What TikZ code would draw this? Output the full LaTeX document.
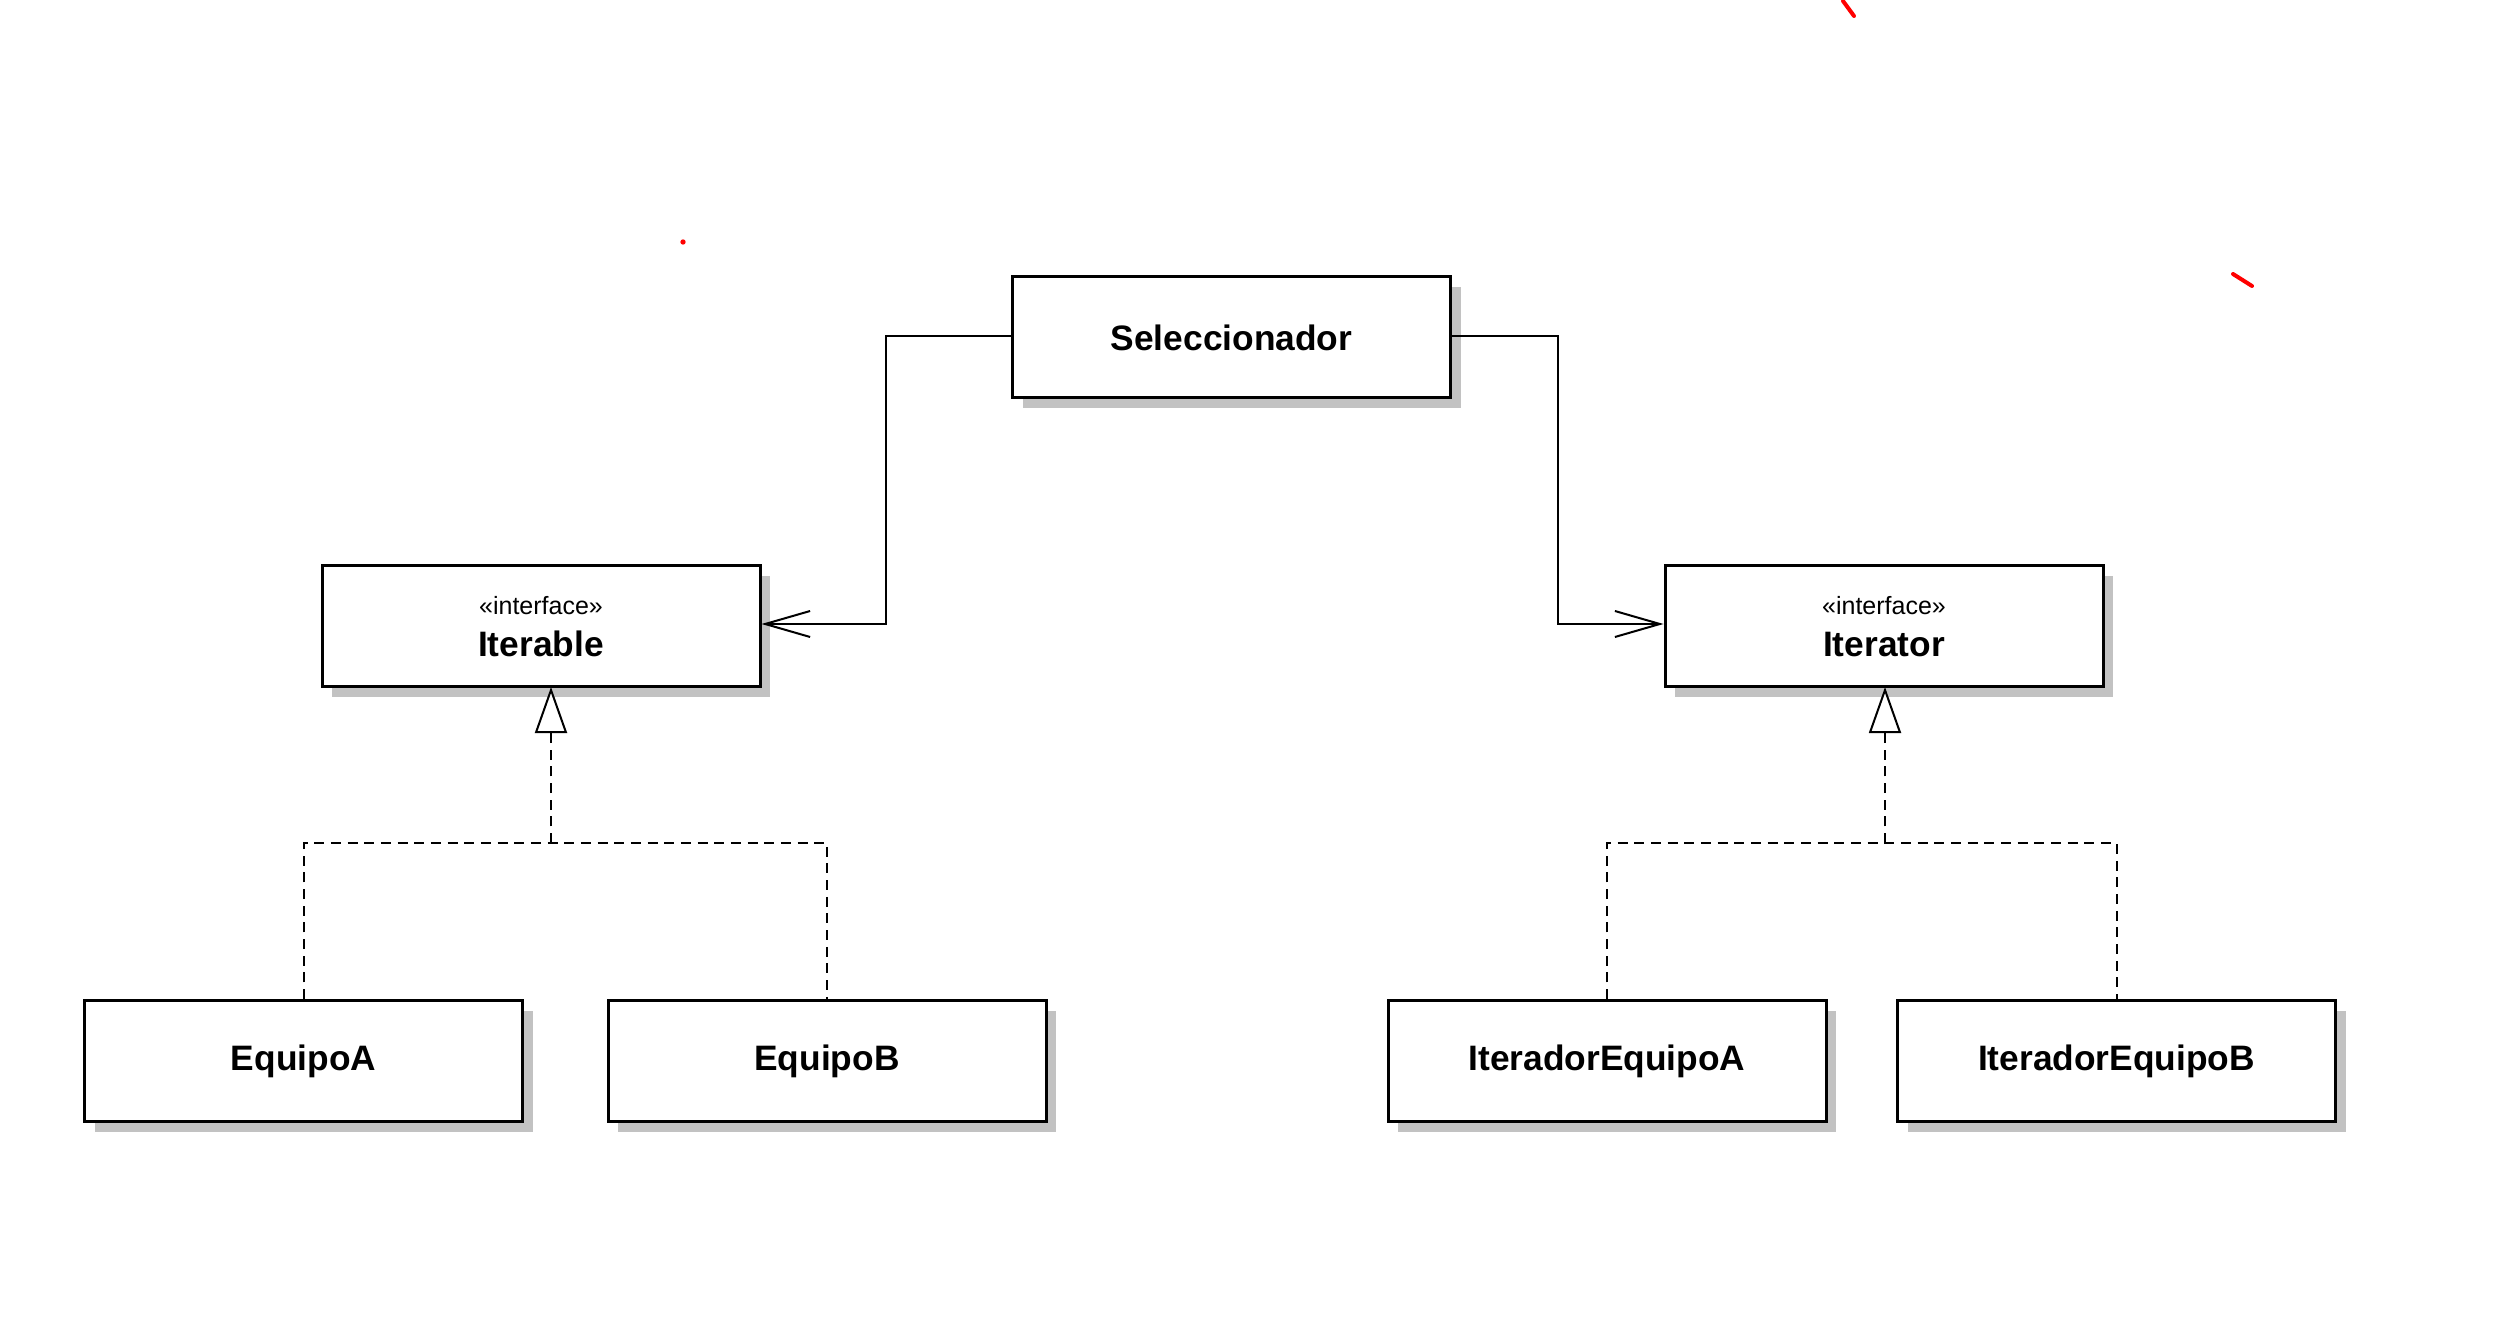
\documentclass[tikz,border=0pt]{standalone}
\usepackage{fontspec}
\setmainfont{Liberation Sans}
\usetikzlibrary{arrows.meta,shadows}
\newcommand\stereotxt[1]{{\mdseries\fontsize{7.5}{9}\selectfont #1}}
\begin{document}
\begin{tikzpicture}[x=0.3pt,y=-0.3pt,
  cls/.style={draw=black, line width=0.9pt, fill=white, minimum width=131.4pt, minimum height=36.3pt,
    inner sep=0pt, align=center, font=\bfseries\fontsize{10.6}{12.7}\selectfont,
    drop shadow={shadow xshift=3pt, shadow yshift=-3pt, fill=black!24, opacity=1}},
  assoc/.style={draw=black, line width=0.6pt, -{Straight Barb[length=13.5pt,width=7.8pt,line width=0.6pt]}},
  real/.style={draw=black, line width=0.6pt, dash pattern=on 3pt off 2pt,
    -{Triangle[open,length=13.8pt,width=9.6pt,line width=0.6pt,fill=white]}},
  realline/.style={draw=black, line width=0.6pt, dash pattern=on 3pt off 2pt},
  redmark/.style={draw=red, line width=1.2pt, line cap=round}]
\useasboundingbox (0,0) rectangle (2498,1322);
\fill[white] (0,0) rectangle (2498,1322);

\node[cls] (sel) at (1231.5,337.5) {Seleccionador};
\node[cls] (iterable) at (541,626.5) {\stereotxt{«interface»}\\Iterable};
\node[cls] (iterator) at (1884,626.5) {\stereotxt{«interface»}\\Iterator};
\node[cls] (eqa) at (303.5,1061) {EquipoA};
\node[cls] (eqb) at (827,1061) {EquipoB};
\node[cls] (iea) at (1607,1061) {IteradorEquipoA};
\node[cls] (ieb) at (2116.5,1061) {IteradorEquipoB};

% associations
\coordinate (l1) at (886,336);
\coordinate (l2) at (886,624);
\draw[assoc] (sel.west |- l1) -- (l1) -- (l2) -- (iterable.east |- l2);
\coordinate (r1) at (1558,336);
\coordinate (r2) at (1558,624);
\draw[assoc] (sel.east |- r1) -- (r1) -- (r2) -- (iterator.west |- r2);

% realizations left
\coordinate (jl) at (551,843);
\coordinate (tl) at (551,687);
\draw[realline] (eqa.north) |- (jl) -| (eqb.north);
\draw[real] (jl) -- (tl);

% realizations right
\coordinate (jr) at (1885,843);
\coordinate (tr) at (1885,687);
\draw[realline] (iea.north) |- (jr) -| (ieb.north);
\draw[real] (jr) -- (tr);

% stray red marks
\coordinate (m1a) at (1843,1);
\coordinate (m1b) at (1854,16);
\draw[redmark] (m1a) -- (m1b);
\coordinate (m2a) at (2233,274);
\coordinate (m2b) at (2252,286);
\draw[redmark] (m2a) -- (m2b);
\coordinate (dot) at (683,242);
\fill[red] (dot) circle (0.8pt);
\end{tikzpicture}
\end{document}
